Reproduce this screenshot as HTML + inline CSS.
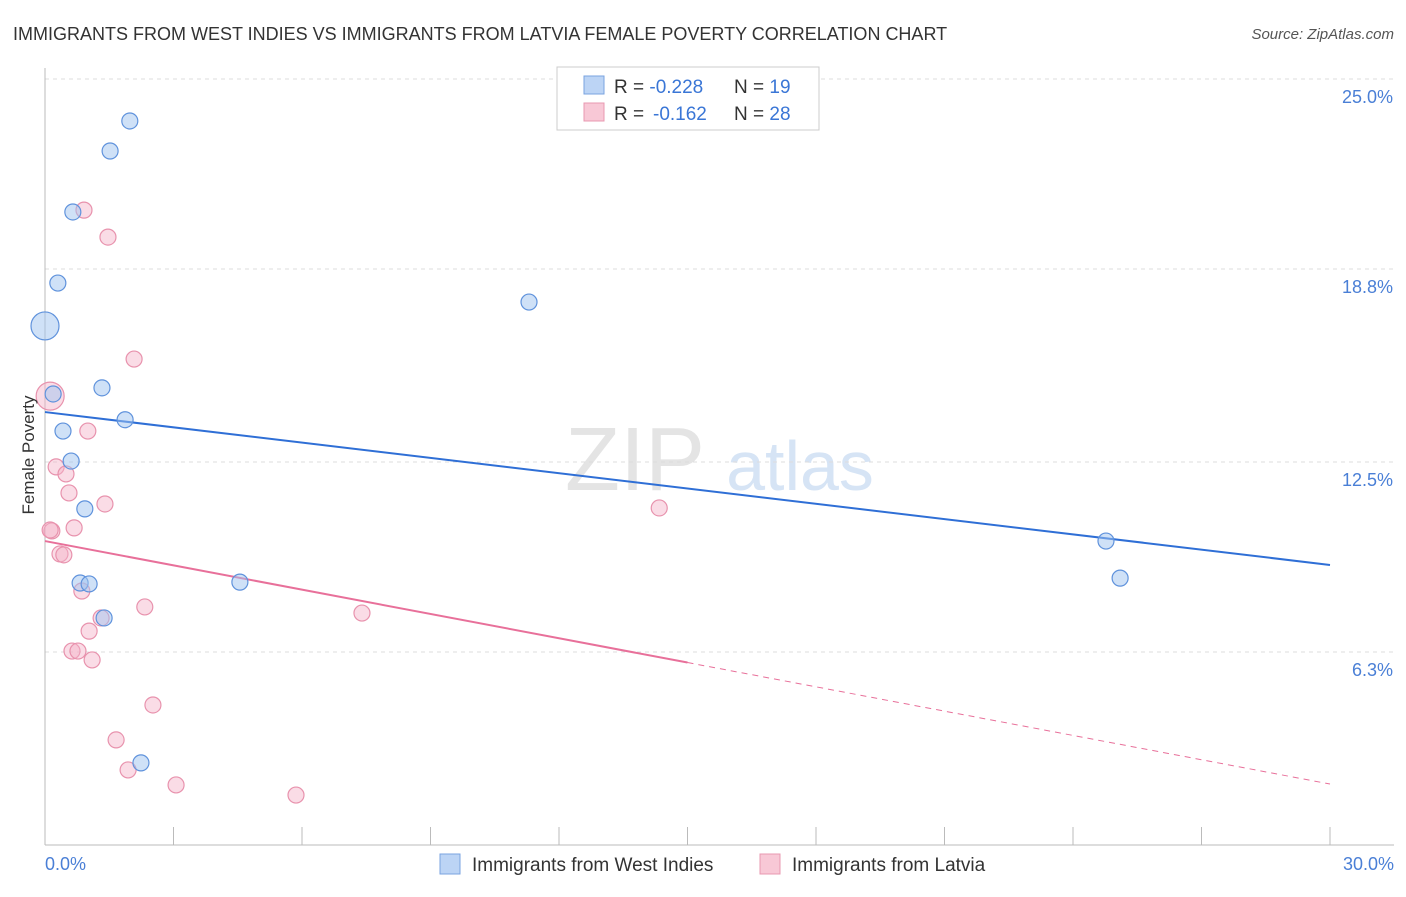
<!DOCTYPE html>
<html><head><meta charset="utf-8"><style>
body{margin:0;background:#fff;font-family:"Liberation Sans",sans-serif}
svg text{font-family:"Liberation Sans",sans-serif}
</style></head><body>
<svg id="c" width="1406" height="892">
<text x="13" y="40" font-size="18" fill="#333">IMMIGRANTS FROM WEST INDIES VS IMMIGRANTS FROM LATVIA FEMALE POVERTY CORRELATION CHART</text>
<text x="1394" y="39" font-size="15" fill="#555" font-style="italic" text-anchor="end">Source: ZipAtlas.com</text>
<text x="635" y="490" font-size="90" fill="#e4e4e4" font-family="Liberation Serif" text-anchor="middle">ZIP</text>
<text x="800" y="490" font-size="70" fill="#d6e4f5" text-anchor="middle">atlas</text>
<g id="grid"></g><g id="axes"></g><g id="lines"></g><g id="pts"></g>
<text transform="translate(34,455) rotate(-90)" font-size="17" fill="#333" text-anchor="middle">Female Poverty</text>
<text x="45" y="870" font-size="18" fill="#4a7fd6">0.0%</text>
<text x="1394" y="870" font-size="18" fill="#4a7fd6" text-anchor="end">30.0%</text>
<g>
<rect x="557" y="67" width="262" height="63" fill="#fff" stroke="#ccc"/>
<rect x="584" y="76" width="20" height="18" fill="#bcd4f5" stroke="#7aa3e0"/>
<rect x="584" y="103" width="20" height="18" fill="#f8c8d6" stroke="#e898b0"/>
<text x="614" y="93" font-size="19" fill="#333">R = <tspan fill="#3a76d6">-0.228</tspan><tspan x="734">N = </tspan><tspan fill="#3a76d6">19</tspan></text>
<text x="614" y="120" font-size="19" fill="#333">R = <tspan fill="#3a76d6" x="653">-0.162</tspan><tspan x="734">N = </tspan><tspan fill="#3a76d6">28</tspan></text>
</g>
<g>
<rect x="440" y="854" width="20" height="20" fill="#bcd4f5" stroke="#7aa3e0"/>
<text x="472" y="871" font-size="19" fill="#333">Immigrants from West Indies</text>
<rect x="760" y="854" width="20" height="20" fill="#f8c8d6" stroke="#e898b0"/>
<text x="792" y="871" font-size="19" fill="#333">Immigrants from Latvia</text>
</g>
</svg>
<script>
const yTicks=[25.0,18.8,12.5,6.3];
const yTickLabels=["25.0%","18.8%","12.5%","6.3%"];
const blueX=[1.98,1.52,0.65,0.30,0,11.30,0.19,1.33,1.87,0.42,0.61,0.93,0.82,1.03,1.38,4.55,2.24,24.77,25.10];
const blueY=[23.63,22.65,20.66,18.34,16.94,17.72,14.72,14.92,13.88,13.51,12.53,10.97,8.55,8.52,7.41,8.58,2.68,9.92,8.71];
const blueBig=[4];
const pinkX=[0.91,1.47,2.08,0.12,1.00,0.26,0.49,0.56,1.40,0.16,0.68,0.35,0.44,0.86,2.33,1.31,1.03,0.63,0.77,1.10,7.40,2.52,1.66,1.94,3.06,5.86,14.34,0.12];
const pinkY=[20.72,19.84,15.86,14.65,13.51,12.34,12.11,11.49,11.13,10.25,10.35,9.50,9.47,8.29,7.77,7.41,6.98,6.33,6.33,6.04,7.57,4.57,3.43,2.45,1.96,1.63,11.00,10.28];
const pinkBig=[3];
const blueTrend=[14.13,9.14];
const pinkTrend=[9.92,1.99];
const NS="http://www.w3.org/2000/svg";
const X=v=>45+v*(1285/30), Y=v=>79+(25-v)*30.64;
function mk(t,a,p){const e=document.createElementNS(NS,t);for(const k in a)e.setAttribute(k,a[k]);document.getElementById(p).appendChild(e);return e;}
yTicks.forEach((t,i)=>{
 const g=mk('line',{x1:45,x2:1394,y1:Y(t),y2:Y(t),stroke:'#ddd','stroke-dasharray':'4,4'},'grid');
 
 
 const l=mk('text',{x:1393,y:Y(t)+24,'font-size':18,fill:'#4a7fd6','text-anchor':'end'},'grid');
 l.textContent=yTickLabels[i];
 
 
});
const ax=mk('line',{x1:45,x2:45,y1:68,y2:845,stroke:'#bbb'},'axes');


const bx=mk('line',{x1:45,x2:1394,y1:845,y2:845,stroke:'#bbb'},'axes');


for(let i=0;i<=10;i++){const t=mk('line',{x1:X(i*3),x2:X(i*3),y1:827,y2:845,stroke:'#bbb'},'axes');
 
 }
const bl=mk('line',{x1:X(0),y1:Y(blueTrend[0]),x2:X(30),y2:Y(blueTrend[1]),stroke:'#2f6fd6','stroke-width':2},'lines');


const pm=pinkTrend[0]+(pinkTrend[1]-pinkTrend[0])*0.5;
const pl=mk('line',{x1:X(0),y1:Y(pinkTrend[0]),x2:X(15),y2:Y(pm),stroke:'#e8709a','stroke-width':2},'lines');


const pd=mk('line',{x1:X(15),y1:Y(pm),x2:X(30),y2:Y(pinkTrend[1]),stroke:'#e8709a','stroke-width':1,'stroke-dasharray':'6,5'},'lines');


function pts(xs,ys,big,fill,stroke,name){xs.forEach((x,i)=>{
 const c=mk('circle',{cx:X(x),cy:Y(ys[i]),r:big.includes(i)?14:8,fill:fill,stroke:stroke,'stroke-width':1.2},'pts');
 
 
});}
pts(pinkX,pinkY,pinkBig,'rgba(245,178,200,0.45)','#e892ad','latvia-point');
pts(blueX,blueY,blueBig,'rgba(160,195,240,0.5)','#5f92dc','west-indies-point');
</script>
</body></html>
